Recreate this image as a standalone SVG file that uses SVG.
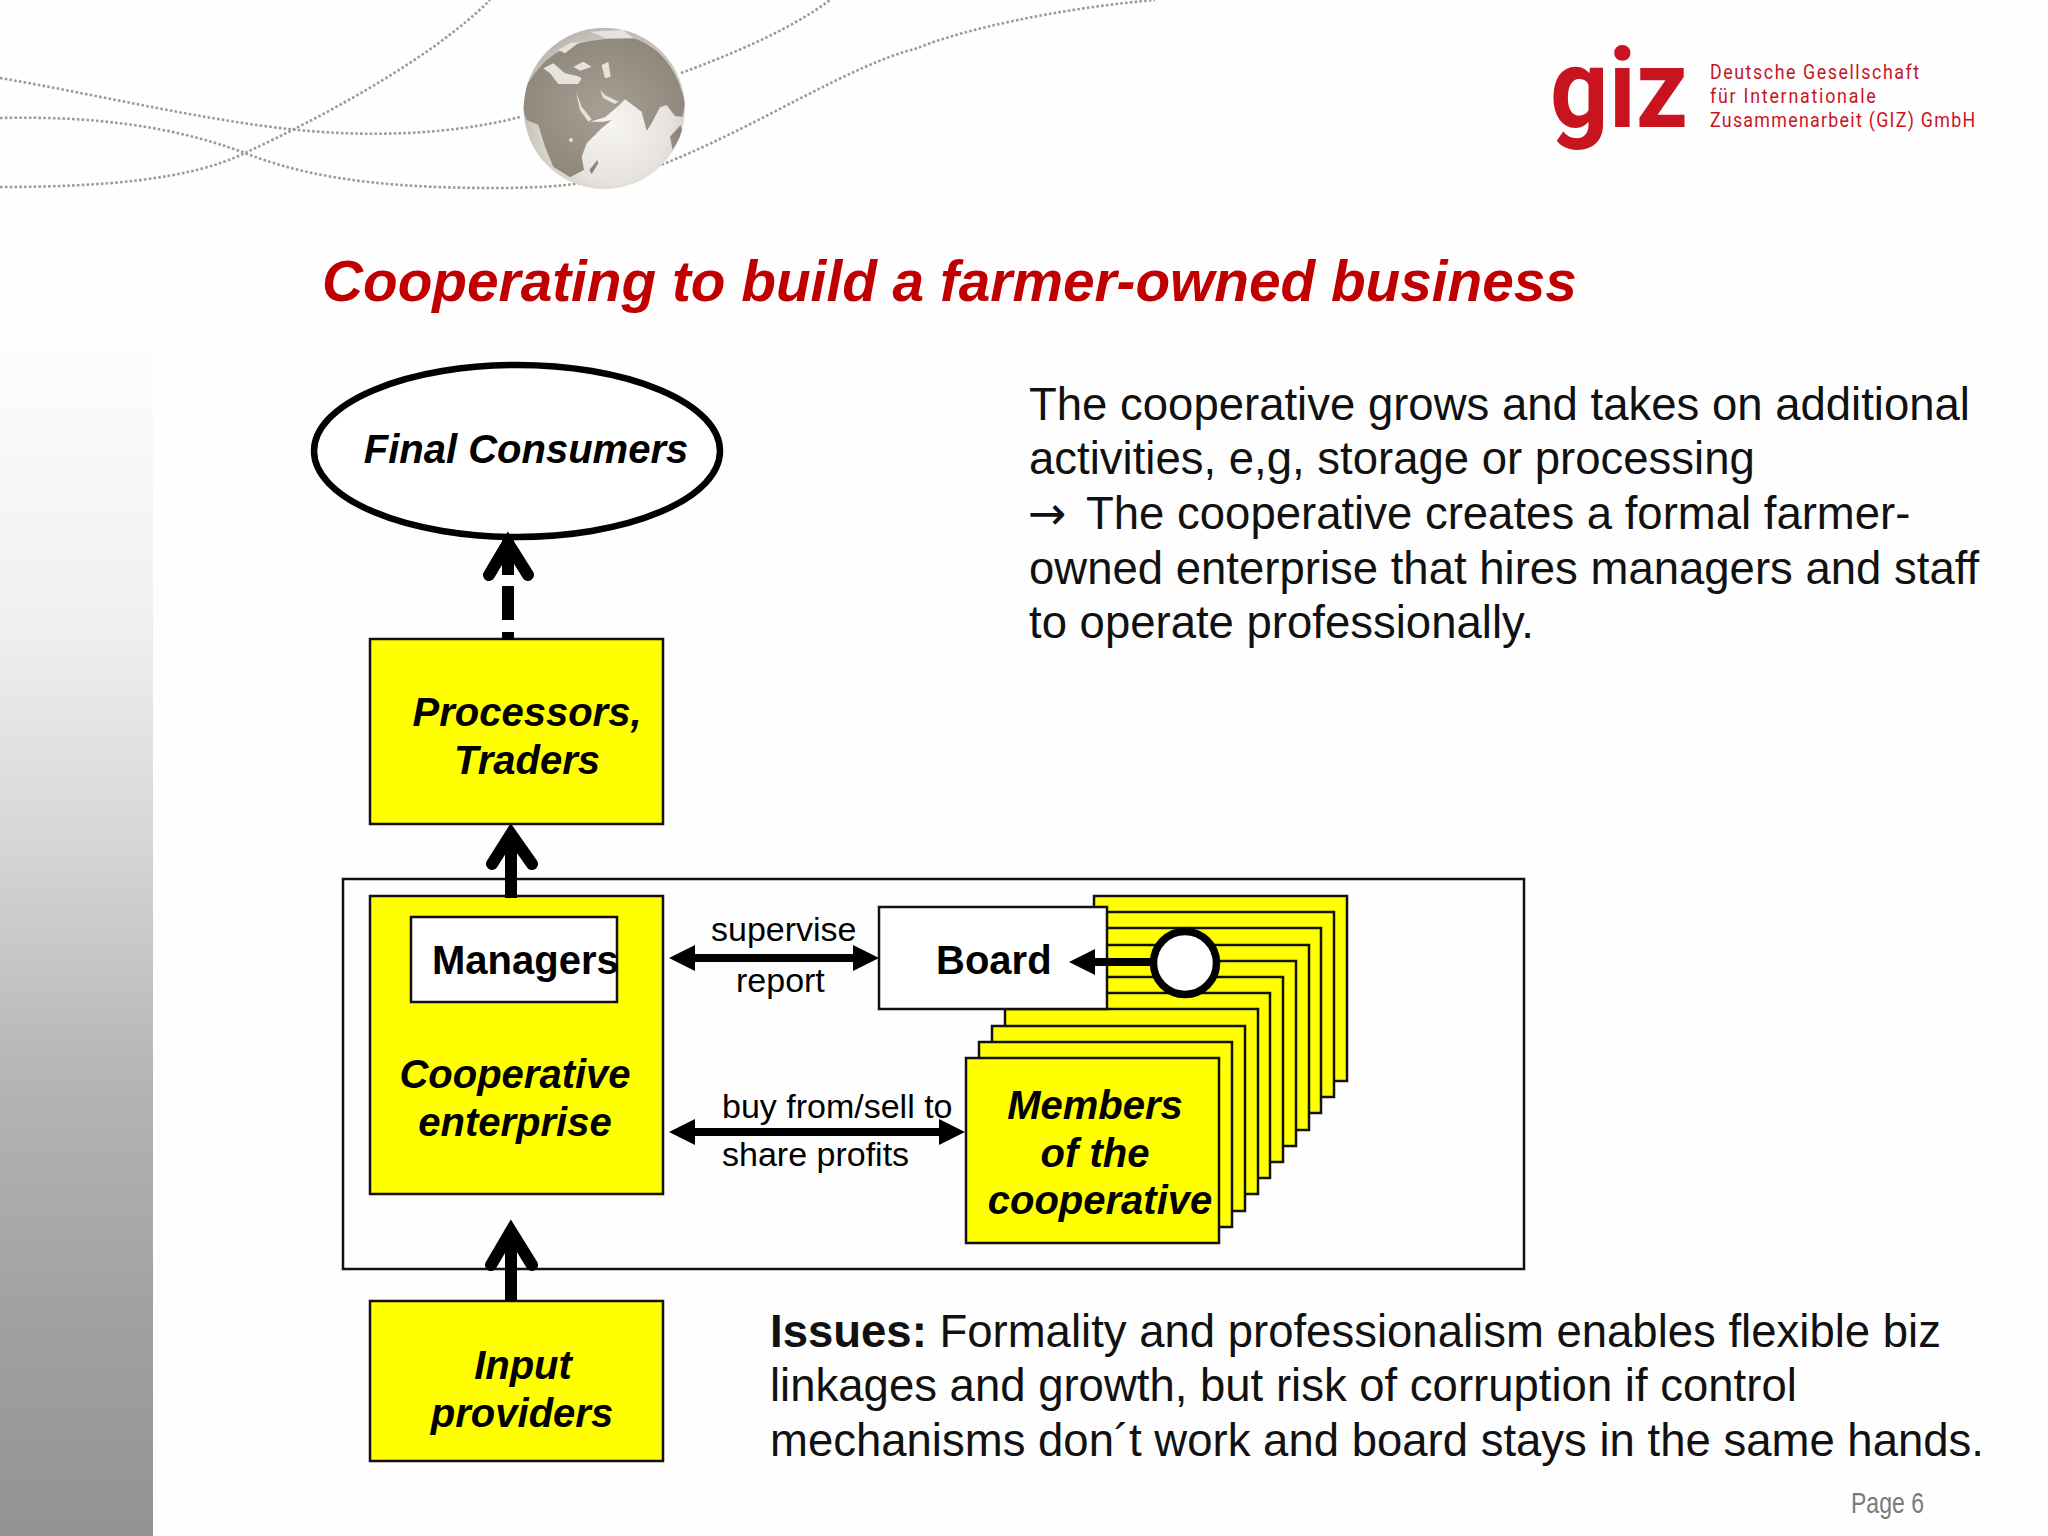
<svg xmlns="http://www.w3.org/2000/svg" width="2048" height="1536" viewBox="0 0 2048 1536">
<style>
text{font-family:"Liberation Sans",Arial,sans-serif;fill:#000}
.n{font-weight:bold;font-style:italic;font-size:40px;text-anchor:middle}
.b{font-weight:bold;font-size:40px}
.l{font-size:34px}
.p{font-size:45.5px;fill:#111}
.y{fill:#ffff00;stroke:#111;stroke-width:2.5}
.w{fill:#fff;stroke:#111;stroke-width:2.5}
.dot{fill:none;stroke:#a39898;stroke-width:2.6;stroke-dasharray:2.6 2.2}
.chev{fill:none;stroke:#000;stroke-width:12;stroke-linecap:round;stroke-linejoin:miter;stroke-miterlimit:6}
.sh{fill:none;stroke:#000;stroke-width:12}
.dbl{fill:none;stroke:#000;stroke-width:8}
.land{fill:url(#landg)}
.sea{fill:#e6e2dc}
.lg{fill:#c8141e}
.ls{font-family:"Roboto",sans-serif;font-size:21px}
</style>
<defs>
<linearGradient id="side" x1="0" y1="0" x2="0" y2="1">
<stop offset="0" stop-color="#fefefe"/><stop offset="0.25" stop-color="#f0f0f0"/><stop offset="0.43" stop-color="#d6d6d6"/><stop offset="0.63" stop-color="#b4b4b4"/><stop offset="0.83" stop-color="#a0a0a0"/><stop offset="1" stop-color="#939393"/>
</linearGradient>
<radialGradient id="globe" cx="0.55" cy="0.6" r="0.6">
<stop offset="0" stop-color="#f7f5f3"/><stop offset="0.6" stop-color="#e6e3de"/><stop offset="1" stop-color="#bdb8b0"/>
</radialGradient>
<radialGradient id="landg" cx="0.5" cy="0.5" r="0.65">
<stop offset="0" stop-color="#a89f94"/><stop offset="1" stop-color="#8b8276"/>
</radialGradient>
<clipPath id="gc"><circle cx="343" cy="295" r="242"/></clipPath>
<marker id="ah" markerUnits="userSpaceOnUse" markerWidth="26" markerHeight="26" refX="3" refY="13" orient="auto-start-reverse"><polygon points="0,0 26,13 0,26" fill="#000"/></marker>
</defs>
<rect width="2048" height="1536" fill="#fefefe"/>
<rect x="0" y="320" width="153" height="1216" fill="url(#side)"/>
<path d="M0 78C100 95 200 120 298 130C370 137 450 135 520 117" class="dot"/>
<path d="M0 118C90 116 170 125 245 153C320 183 410 188 497 188C570 188 620 180 666 163C760 125 850 65 918 48C960 30 1060 8 1155 0" class="dot"/>
<path d="M0 187C100 187 190 180 245 153C320 118 430 60 490 0" class="dot"/>
<path d="M681 73C730 55 790 30 830 0" class="dot"/>
<g id="globe-map" transform="translate(490 10) scale(.3333)">
<circle cx="343" cy="295" r="242" fill="url(#globe)"/>
<g clip-path="url(#gc)">
<path class="land" d="M160 160C220 100 300 85 430 85C510 110 565 180 585 280L578 320L555 318L530 285L510 292L482 345L470 362L455 305L405 268L385 288L345 322L300 335L340 335L365 330L335 355L290 400L275 440L282 480L240 502L190 470L165 410L145 345L110 330L98 300L110 225L135 190Z"/>
<path class="sea" d="M160 175L190 160L225 190L262 198L275 205L265 222L205 222L180 190ZM250 170L280 155L305 170L270 182ZM335 165L355 155L362 200L345 205ZM258 245L275 290L305 328L295 335L270 300ZM330 240L345 255L385 275L375 282L340 265ZM205 120L240 100L270 95L225 130ZM300 65L400 60L430 85L350 85Z"/>
<path class="land" d="M540 380L572 345L578 370L548 420ZM298 480L322 450L325 460L305 492Z"/>
<circle cx="243" cy="390" r="6" class="sea"/>
</g>
</g>
<g id="logo">
<text x="1550" y="127" class="lg" style="font-family:'Roboto','Liberation Sans',sans-serif;font-weight:700;font-size:112px" textLength="138" lengthAdjust="spacingAndGlyphs">giz</text>
<text transform="translate(1710 79) scale(.85 1)" class="lg ls" textLength="246">Deutsche Gesellschaft</text>
<text transform="translate(1710 103) scale(.85 1)" class="lg ls" textLength="195">für Internationale</text>
<text transform="translate(1710 127) scale(.85 1)" class="lg ls" textLength="312">Zusammenarbeit (GIZ) GmbH</text>
</g>
<text id="title" x="322" y="301" style="fill:#c00000;font-weight:bold;font-style:italic;font-size:56.75px">Cooperating to build a farmer-owned business</text>
<rect id="frame" x="343" y="879" width="1181" height="390" fill="none" stroke="#111" stroke-width="2.5"/>
<g id="final-consumers"><ellipse cx="517" cy="451" rx="203" ry="86" fill="#fff" stroke="#000" stroke-width="6.5"/><text class="n" x="526" y="463">Final Consumers</text></g>
<g id="processors"><rect class="y" x="370" y="639" width="293" height="185"/><text class="n" x="527" y="726">Processors,</text><text class="n" x="527" y="774">Traders</text></g>
<g id="cooperative"><rect class="y" x="370" y="896" width="293" height="298"/><text class="n" x="515" y="1088">Cooperative</text><text class="n" x="515" y="1136">enterprise</text></g>
<g id="managers"><rect class="w" x="411" y="917" width="206" height="85"/><text class="b" x="432" y="974">Managers</text></g>
<g id="input"><rect class="y" x="370" y="1301" width="293" height="160"/><text class="n" x="523" y="1379">Input</text><text class="n" x="522" y="1427">providers</text></g>
<g id="members">
<rect class="y" x="1094" y="896" width="253" height="185"/>
<rect class="y" x="1081" y="912" width="253" height="185"/>
<rect class="y" x="1068" y="928" width="253" height="185"/>
<rect class="y" x="1056" y="945" width="253" height="185"/>
<rect class="y" x="1043" y="961" width="253" height="185"/>
<rect class="y" x="1030" y="977" width="253" height="185"/>
<rect class="y" x="1017" y="993" width="253" height="185"/>
<rect class="y" x="1005" y="1009" width="253" height="185"/>
<rect class="y" x="992" y="1026" width="253" height="185"/>
<rect class="y" x="979" y="1042" width="253" height="185"/>
<rect class="y" x="966" y="1058" width="253" height="185"/>
<text class="n" x="1095" y="1119">Members</text><text class="n" x="1095" y="1167">of the</text><text class="n" x="1100" y="1214">cooperative</text>
</g>
<g id="board"><rect class="w" x="879" y="907" width="228" height="102"/><text class="b" x="936" y="974">Board</text></g>
<g id="connectors">
<path class="sh" d="M508 575V540"/><path d="M508 586V620M508 632V640" class="sh"/>
<polyline class="chev" points="489,575 508,543 528,575"/>
<path class="sh" d="M511 898V840"/>
<polyline class="chev" points="492,864 511,834 532,864"/>
<path class="sh" d="M511 1301V1235"/>
<polyline class="chev" points="491,1265 511,1231 532,1265"/>
<path class="dbl" d="M692 958H856" marker-start="url(#ah)" marker-end="url(#ah)"/>
<path class="dbl" d="M692 1132H942" marker-start="url(#ah)" marker-end="url(#ah)"/>
<path class="dbl" d="M1152 962H1092" marker-end="url(#ah)"/>
</g>
<g id="board-seat"><circle cx="1185" cy="963" r="31.500" fill="#fff" stroke="#000" stroke-width="7.500"/></g>
<g id="labels">
<text class="l" x="711" y="941">supervise</text>
<text class="l" x="736" y="992">report</text>
<text class="l" x="722" y="1118">buy from/sell to</text>
<text class="l" x="722" y="1166">share profits</text>
</g>
<g id="body">
<text class="p" x="1029" y="420">The cooperative grows and takes on additional</text>
<text class="p" x="1029" y="474">activities, e,g, storage or processing</text>
<text class="p" x="1028" y="529" style="font-family:'DejaVu Sans',sans-serif;font-size:46px">→</text>
<text class="p" x="1086" y="529">The cooperative creates a formal farmer-</text>
<text class="p" x="1029" y="584">owned enterprise that hires managers and staff</text>
<text class="p" x="1029" y="638">to operate professionally.</text>
<text class="p" x="770" y="1347"><tspan font-weight="bold">Issues:</tspan> Formality and professionalism enables flexible biz</text>
<text class="p" x="770" y="1401">linkages and growth, but risk of corruption if control</text>
<text class="p" x="770" y="1456">mechanisms don´t work and board stays in the same hands.</text>
</g>
<text id="page" x="1851" y="1513" style="fill:#7a7a7a;font-size:30px" textLength="73" lengthAdjust="spacingAndGlyphs">Page 6</text>
</svg>
